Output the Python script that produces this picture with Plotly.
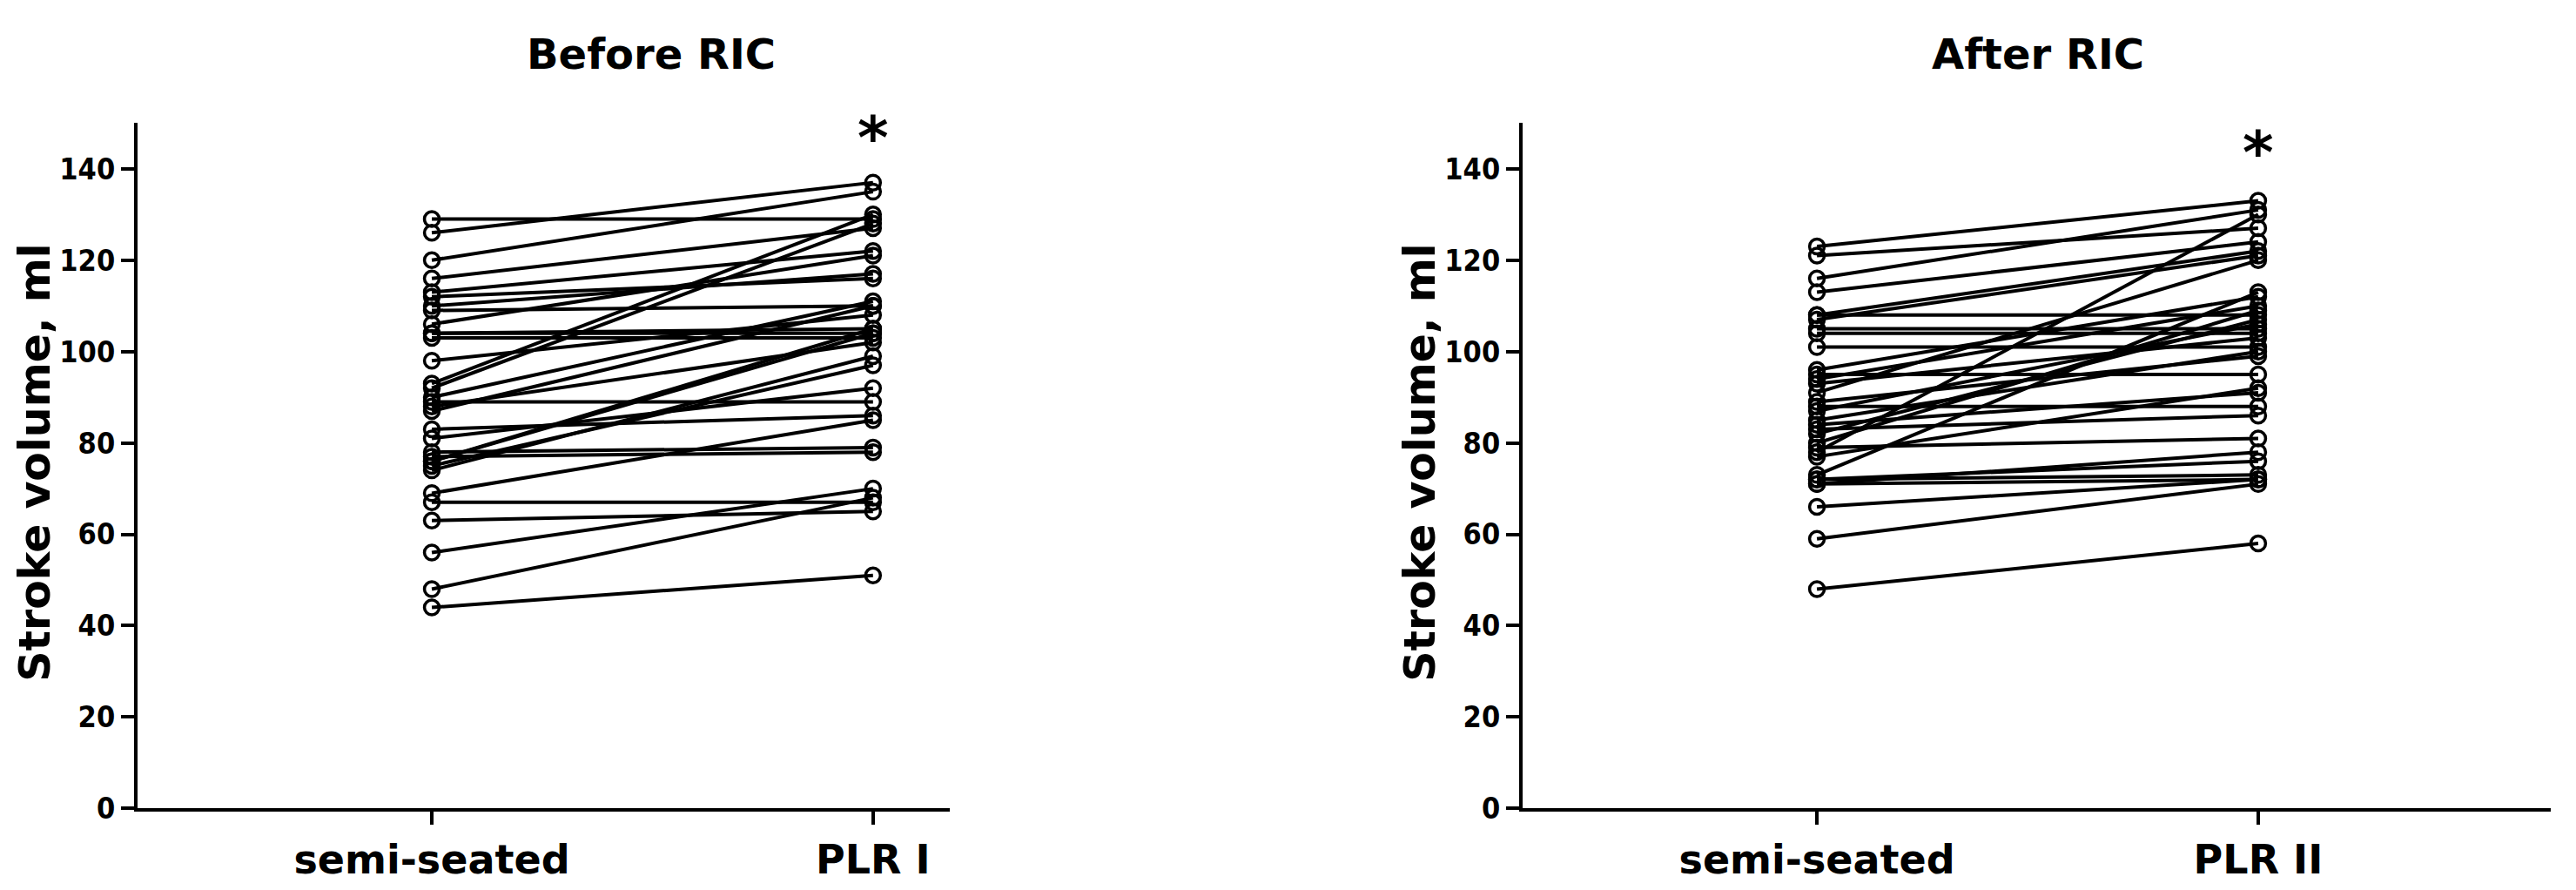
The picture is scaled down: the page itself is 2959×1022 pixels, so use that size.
import plotly.graph_objects as go
from plotly.subplots import make_subplots

# Stroke volume (ml) per subject
semi_before = [129, 126, 120, 116, 113, 112, 110, 109, 106, 104, 104, 103, 98, 93, 92, 90, 89,
               88, 87, 83, 81, 78, 77, 76, 76, 75, 74, 69, 67, 63, 56, 48, 44]
plr_before = [129, 137, 135, 127, 122, 116, 117, 110, 121, 104, 105, 103, 108, 130, 128, 111, 89,
              102, 110, 86, 92, 79, 78, 105, 104, 97, 99, 85, 67, 65, 70, 68, 51]

semi_after = [123, 121, 116, 113, 108, 108, 107, 105, 104, 101, 96, 95, 94, 93, 91, 89, 88,
              87, 85, 84, 83, 82, 80, 79, 78, 77, 73, 72, 72, 71, 71, 66, 59, 48]
plr_after = [133, 127, 131, 124, 108, 122, 121, 105, 104, 101, 112, 95, 110, 103, 120, 99, 88,
             106, 100, 91, 86, 107, 109, 81, 130, 92, 113, 76, 73, 72, 78, 72, 71, 58]

cats_before = ["semi-seated", "PLR I"]
cats_after = ["semi-seated", "PLR II"]
titles = ["Before RIC", "After RIC"]
y_ticks = [0, 20, 40, 60, 80, 100, 120, 140]

# the html page keeps the browser's 8px body margin (and comes out a bit
# taller than the figure), so page positions are converted below
PAGE_W, PAGE_H = 2959, 1022
M = 8
FW, FH = PAGE_W - 2 * M, PAGE_H - 2 * M
SY = 0.981  # vertical squeeze seen in the screenshot


def fx(px):
    return (px - M) / FW


def fy(py):
    return (FH - (py / SY - M)) / FH


FONT = "DejaVu Sans"
NARROW = "Liberation Sans Narrow, Arial Narrow, DejaVu Sans Condensed, sans-serif"


def paired(cats, a, b):
    xs, ys = [], []
    for v1, v2 in zip(a, b):
        xs += [cats[0], cats[1], None]
        ys += [v1, v2, None]
    return xs, ys


fig = make_subplots(rows=1, cols=2)

for col, (cats, a, b) in enumerate([(cats_before, semi_before, plr_before),
                                     (cats_after, semi_after, plr_after)], start=1):
    xs, ys = paired(cats, a, b)
    fig.add_trace(go.Scatter(x=xs, y=ys, mode="lines+markers",
                             line=dict(color="black", width=4),
                             marker=dict(symbol="circle-open", size=17, color="black",
                                         line=dict(width=3.5, color="black")),
                             connectgaps=False, showlegend=False, hoverinfo="skip"),
                  row=1, col=col)

axis_common = dict(showline=True, linecolor="black", linewidth=4, ticks="outside",
                   ticklen=15, tickwidth=4, tickcolor="black", showgrid=False,
                   zeroline=False, mirror=False)

fig.update_xaxes(**axis_common, type="category",
                 tickfont=dict(family=FONT, size=46, color="black", weight="bold"))
fig.update_yaxes(**axis_common, range=[0, 150], tickvals=y_ticks,
                 tickfont=dict(family=NARROW, size=34, color="black", weight="bold"))

fig.update_layout(
    width=FW, height=FH,
    margin=dict(l=0, r=0, t=0, b=0),
    plot_bgcolor="white", paper_bgcolor="white",
    xaxis=dict(domain=[fx(158), fx(1091)], range=[-0.667, 1.174]),
    xaxis2=dict(domain=[fx(1749), fx(2930)], range=[-0.667, 1.663]),
    yaxis=dict(domain=[fy(929), fy(141.4)]),
    yaxis2=dict(domain=[fy(929), fy(141.4)]),
)

# panel titles
for x, t in zip([748, 2341], titles):
    fig.add_annotation(x=fx(x), y=fy(62), xref="paper", yref="paper", text=t,
                       showarrow=False, xanchor="center", yanchor="middle",
                       font=dict(family=FONT, size=48, color="black", weight="bold"))

# y-axis titles
for x in [41, 1632]:
    fig.add_annotation(x=fx(x), y=fy(532), xref="paper", yref="paper",
                       text="Stroke volume, ml", textangle=-90, showarrow=False,
                       xanchor="center", yanchor="middle",
                       font=dict(family=FONT, size=49, color="black", weight="bold"))

# significance stars
fig.add_annotation(x="PLR I", y=148.4, xref="x", yref="y", text="*", showarrow=False,
                   yanchor="middle", yshift=-9,
                   font=dict(family=FONT, size=68, color="black", weight="bold"))
fig.add_annotation(x="PLR II", y=145.2, xref="x2", yref="y2", text="*", showarrow=False,
                   yanchor="middle", yshift=-9,
                   font=dict(family=FONT, size=68, color="black", weight="bold"))

fig.write_html("out.html")
